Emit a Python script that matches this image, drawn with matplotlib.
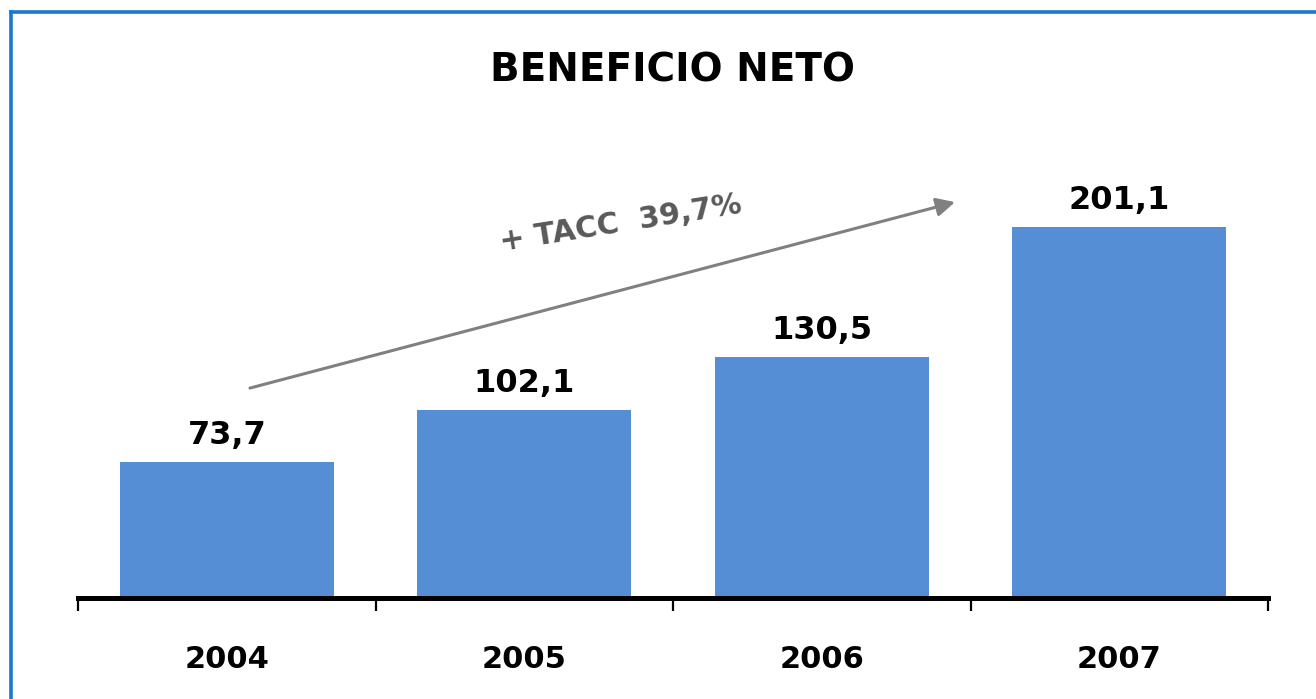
import matplotlib
matplotlib.use('Agg')
import matplotlib.pyplot as plt
from matplotlib.lines import Line2D

years = ['2004', '2005', '2006', '2007']
beneficio = [73.7, 102.1, 130.5, 201.1]
labels = ['73,7', '102,1', '130,5', '201,1']
title = 'BENEFICIO NETO'
growth_text = '+ TACC  39,7%'

W, H = 1316, 699
fig = plt.figure(figsize=(W / 100, H / 100), dpi=100)
fig.patch.set_facecolor('white')

# axes placed in pixels to match the slide layout
ax = fig.add_axes([78 / W, (H - 598) / H, (1268 - 78) / W, (598 - 130) / H])
x = list(range(len(years)))
bars = ax.bar(x, beneficio, width=0.72, color='#558ED5', zorder=2)
ax.bar_label(bars, labels=labels, padding=8, fontsize=23, fontweight='bold',
             family='DejaVu Sans', color='black')

ax.set_xlim(-0.5, len(years) - 0.5)
ax.set_ylim(0, 253.7)
for s in ['top', 'right', 'left']:
    ax.spines[s].set_visible(False)
ax.spines['bottom'].set_linewidth(3.6)
ax.spines['bottom'].set_color('black')
ax.set_yticks([])

# boundary ticks (major) and centred year labels (minor)
ax.set_xticks([i - 0.5 for i in range(len(years) + 1)])
ax.set_xticklabels([])
ax.tick_params(axis='x', which='major', direction='out', length=9, width=1.6, color='black')
ax.set_xticks(x, minor=True)
ax.set_xticklabels(years, minor=True, fontsize=22, fontweight='bold', family='DejaVu Sans')
ax.tick_params(axis='x', which='minor', length=0, pad=34)

# growth arrow
ax.annotate('', xy=(2.448, 214.6), xytext=(0.078, 113.8),
            arrowprops=dict(arrowstyle='-|>', color='#808080', lw=2.2, mutation_scale=28,
                            shrinkA=0, shrinkB=0),
            annotation_clip=False)
ax.text(1.325, 203.0, growth_text, rotation=9, ha='center', va='center',
        fontsize=21.5, fontweight='bold', color='#595959', family='DejaVu Sans',
        rotation_mode='anchor')

fig.text(673 / W, 1 - 71 / H, title, ha='center', va='center',
         fontsize=28, fontweight='bold', family='DejaVu Sans', color='black')

# slide frame (left and top edges visible)
fig.add_artist(Line2D([11 / W, 11 / W], [0, 1 - 11.5 / H], color='#1a78cf', lw=2.6))
fig.add_artist(Line2D([11 / W, 1], [1 - 11.5 / H, 1 - 11.5 / H], color='#1a78cf', lw=2.6))

fig.savefig('out.png', dpi=100, facecolor='white')
